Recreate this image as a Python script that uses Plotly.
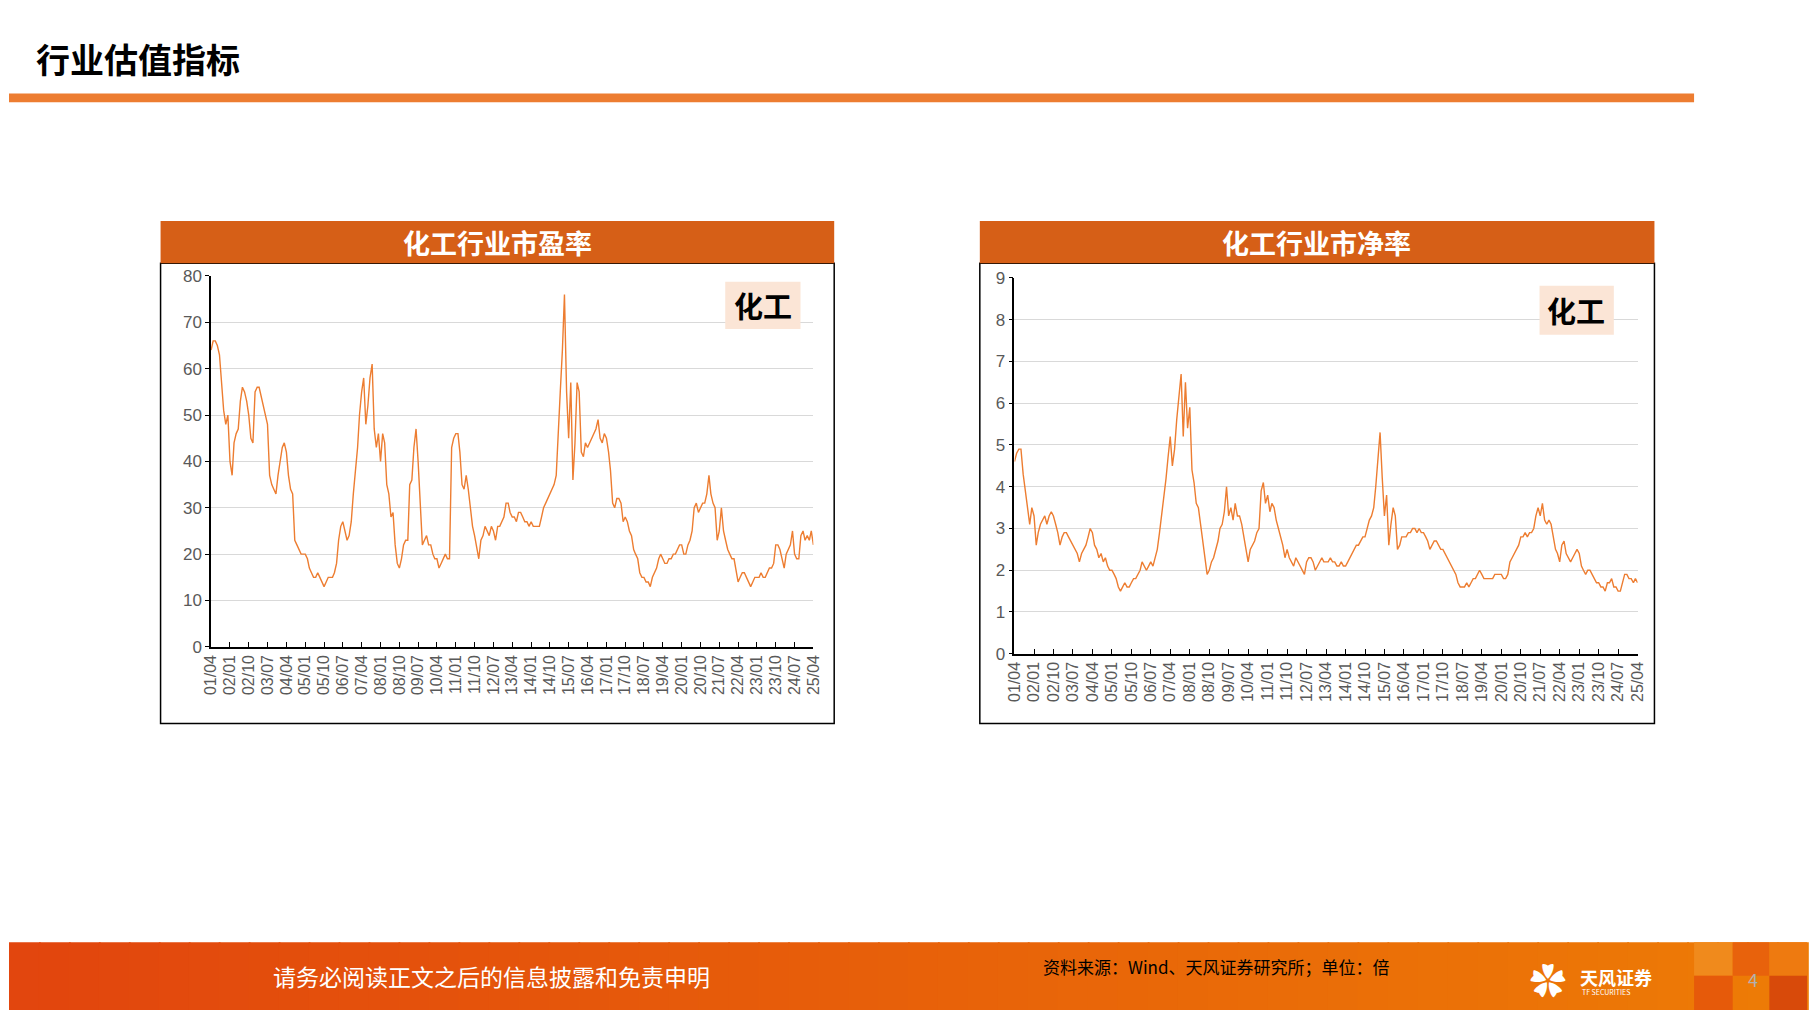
import pandas as pd
import plotly.graph_objects as go

# monthly, 2001-04 .. 2025-04
dates = pd.date_range("2001-04-01", periods=289, freq="MS")

pe = [64, 66, 66, 65, 63, 56, 51, 48, 50,
      40, 37, 44, 46, 47, 53, 56, 55, 53,
      50, 45, 44, 55, 56, 56, 54, 52, 50,
      48, 37, 35, 34, 33, 37, 40, 43, 44,
      42, 37, 34, 33, 23, 22, 21, 20, 20,
      20, 19, 17, 16, 15, 15, 16, 15, 14,
      13, 14, 15, 15, 15, 16, 18, 23, 26,
      27, 25, 23, 24, 27, 33, 38, 43, 50,
      55, 58, 48, 52, 58, 61, 47, 43, 46,
      40, 46, 44, 35, 33, 28, 29, 22, 18,
      17, 19, 22, 23, 23, 35, 36, 43, 47,
      40, 30, 22, 23, 24, 22, 22, 20, 19,
      19, 17, 18, 19, 20, 19, 19, 43, 45,
      46, 46, 42, 35, 34, 37, 34, 30, 26,
      24, 21, 19, 23, 24, 26, 25, 24, 26,
      25, 23, 26, 26, 27, 28, 31, 31, 29,
      28, 28, 27, 29, 29, 28, 27, 27, 26,
      27, 26, 26, 26, 26, 28, 30, 31, 32,
      33, 34, 35, 37, 45, 55, 64, 76, 55,
      45, 57, 36, 44, 57, 55, 42, 41, 44,
      43, 44, 45, 46, 47, 49, 45, 44, 46,
      45, 42, 38, 31, 30, 32, 32, 31, 27,
      28, 27, 25, 24, 21, 20, 19, 16, 15,
      15, 14, 14, 13, 15, 16, 17, 19, 20,
      19, 18, 18, 19, 19, 20, 20, 21, 22,
      22, 20, 20, 22, 23, 25, 30, 31, 29,
      30, 31, 31, 33, 37, 33, 31, 30, 23,
      25, 30, 25, 23, 21, 20, 19, 19, 17,
      14, 15, 16, 16, 15, 14, 13, 14, 15,
      15, 15, 16, 15, 15, 16, 17, 17, 18,
      22, 22, 21, 19, 17, 20, 21, 22, 25,
      20, 19, 19, 24, 25, 23, 24, 23, 25, 22]

pb = [4.6, 4.8, 4.9, 4.9, 4.3, 3.9, 3.6, 3.1, 3.5,
      3.3, 2.6, 2.9, 3.1, 3.2, 3.3, 3.1, 3.3, 3.4,
      3.3, 3.1, 2.9, 2.6, 2.8, 2.9, 2.9, 2.8, 2.7,
      2.6, 2.5, 2.4, 2.2, 2.4, 2.5, 2.6, 2.8, 3.0,
      2.9, 2.6, 2.5, 2.3, 2.4, 2.2, 2.3, 2.1, 2.0,
      2.0, 1.9, 1.8, 1.6, 1.5, 1.6, 1.7, 1.6, 1.6,
      1.7, 1.8, 1.8, 1.9, 2.0, 2.2, 2.1, 2.0, 2.1,
      2.2, 2.1, 2.3, 2.5, 2.9, 3.3, 3.8, 4.2, 4.7,
      5.2, 4.5, 4.9, 5.6, 6.2, 6.7, 5.2, 6.5, 5.4,
      5.9, 4.4, 4.1, 3.6, 3.5, 3.1, 2.7, 2.3, 1.9,
      2.0, 2.2, 2.3, 2.5, 2.7, 3.0, 3.1, 3.4, 4.0,
      3.3, 3.5, 3.2, 3.6, 3.3, 3.3, 3.1, 2.8, 2.5,
      2.2, 2.5, 2.6, 2.7, 2.9, 3.0, 3.9, 4.1, 3.6,
      3.8, 3.4, 3.6, 3.5, 3.2, 3.0, 2.8, 2.6, 2.3,
      2.5, 2.3, 2.2, 2.1, 2.3, 2.2, 2.1, 2.0, 1.9,
      2.2, 2.3, 2.3, 2.2, 2.0, 2.1, 2.2, 2.3, 2.2,
      2.2, 2.2, 2.3, 2.2, 2.2, 2.1, 2.1, 2.2, 2.1,
      2.1, 2.2, 2.3, 2.4, 2.5, 2.6, 2.6, 2.7, 2.8,
      2.8, 3.0, 3.2, 3.3, 3.5, 4.0, 4.6, 5.3, 4.2,
      3.3, 3.8, 2.6, 3.1, 3.5, 3.3, 2.5, 2.6, 2.8,
      2.8, 2.8, 2.9, 2.9, 3.0, 3.0, 2.9, 3.0, 2.9,
      2.9, 2.8, 2.7, 2.5, 2.6, 2.7, 2.7, 2.6, 2.5,
      2.5, 2.4, 2.3, 2.2, 2.1, 2.0, 1.9, 1.7, 1.6,
      1.6, 1.6, 1.7, 1.6, 1.7, 1.8, 1.8, 1.9, 2.0,
      1.9, 1.8, 1.8, 1.8, 1.8, 1.8, 1.9, 1.9, 1.9,
      1.9, 1.8, 1.8, 1.9, 2.2, 2.3, 2.4, 2.5, 2.6,
      2.8, 2.8, 2.9, 2.8, 2.9, 2.9, 3.0, 3.3, 3.5,
      3.3, 3.6, 3.2, 3.1, 3.2, 3.1, 2.8, 2.5, 2.4,
      2.2, 2.6, 2.7, 2.4, 2.3, 2.2, 2.3, 2.4, 2.5,
      2.4, 2.1, 2.0, 1.9, 2.0, 2.0, 1.9, 1.8, 1.7,
      1.7, 1.6, 1.6, 1.5, 1.7, 1.7, 1.8, 1.6, 1.6,
      1.5, 1.5, 1.7, 1.9, 1.9, 1.8, 1.8, 1.7, 1.8, 1.7]

tick_dates = pd.date_range("2001-04-01", "2025-04-01", freq="9MS")
tick_text = [d.strftime("%y/%m") for d in tick_dates]

W, H = 1815, 1020
FONT = "Noto Sans CJK SC"
LINE = "#ED7D31"


def px(x):
    return x / W


def py(y):
    return 1 - y / H


fig = go.Figure()
fig.add_trace(go.Scatter(x=dates, y=pe, mode="lines", line=dict(color=LINE, width=1.4),
                         xaxis="x", yaxis="y", showlegend=False))
fig.add_trace(go.Scatter(x=dates, y=pb, mode="lines", line=dict(color=LINE, width=1.4),
                         xaxis="x2", yaxis="y2", showlegend=False))

xcommon = dict(range=[dates[0], dates[-1]], tickvals=tick_dates, ticktext=tick_text,
               tickangle=-90, tickfont=dict(size=16, color="#595959", family="Liberation Sans"),
               showline=True, linecolor="black", linewidth=1.5, ticks="inside",
               ticklen=5, tickcolor="black", showgrid=False, zeroline=False)
ycommon = dict(tickfont=dict(size=17, color="#595959", family="Liberation Sans"),
               showline=True, linecolor="black", linewidth=1.5, ticks="outside",
               ticklen=4, tickcolor="black", gridcolor="#D9D9D9", gridwidth=1.2,
               zeroline=False)

fig.update_layout(
    width=W, height=H, margin=dict(l=0, r=0, t=0, b=0),
    paper_bgcolor="white", plot_bgcolor="white",
    font=dict(family=FONT),
    xaxis=dict(domain=[px(204), px(812)], anchor="y", **xcommon),
    yaxis=dict(domain=[py(650), py(272)], anchor="x", range=[0, 80], dtick=10, **ycommon),
    xaxis2=dict(domain=[px(1015), px(1644)], anchor="y2", **xcommon),
    yaxis2=dict(domain=[py(657), py(274)], anchor="x2", range=[0, 9], dtick=1, **ycommon),
)

shapes = []
# top orange rule
shapes.append(dict(type="rect", xref="paper", yref="paper", x0=0, x1=px(1701),
                   y0=py(95), y1=py(86), fillcolor="#ED7D31", line_width=0))
# chart boxes and header bars
for x0, x1 in [(153, 833), (980, 1661)]:
    shapes.append(dict(type="rect", xref="paper", yref="paper", x0=px(x0), x1=px(x1),
                       y0=py(728), y1=py(259), line=dict(color="black", width=1.5)))
    shapes.append(dict(type="rect", xref="paper", yref="paper", x0=px(x0), x1=px(x1),
                       y0=py(259), y1=py(216), fillcolor="#D65F17", line_width=0))
# label boxes
for x0, x1, y0, y1 in [(723, 799, 278, 326), (1545, 1620, 282, 332)]:
    shapes.append(dict(type="rect", xref="paper", yref="paper", x0=px(x0), x1=px(x1),
                       y0=py(y1), y1=py(y0), fillcolor="#FBE5D6", line_width=0))
# footer gradient
n = 60
c0, c1 = (226, 70, 14), (238, 124, 6)
for i in range(n):
    t = i / (n - 1)
    col = "rgb(%d,%d,%d)" % tuple(int(a + (b - a) * t) for a, b in zip(c0, c1))
    shapes.append(dict(type="rect", xref="paper", yref="paper", x0=i / n, x1=(i + 1) / n + 0.001,
                       y0=0, y1=py(951), fillcolor=col, line_width=0))
# corner blocks
for x0, x1, y0, y1, col in [(1701, 1740, 951, 985, "#F08A1C"), (1740, 1777, 951, 985, "#E8620C"),
                            (1777, 1815, 951, 985, "#EE7A10"), (1701, 1740, 985, 1020, "#E65A0A"),
                            (1777, 1815, 985, 1020, "#D84A0A")]:
    shapes.append(dict(type="rect", xref="paper", yref="paper", x0=px(x0), x1=px(x1),
                       y0=py(y1), y1=py(y0), fillcolor=col, line_width=0))
fig.update_layout(shapes=shapes)

ann = [
    dict(x=px(25), y=py(50), text="<b>行业估值指标</b>", xanchor="left", size=34, color="black"),
    dict(x=px(493), y=py(238), text="<b>化工行业市盈率</b>", xanchor="center", size=27, color="white"),
    dict(x=px(1320), y=py(238), text="<b>化工行业市净率</b>", xanchor="center", size=27, color="white"),
    dict(x=px(761), y=py(302), text="<b>化工</b>", xanchor="center", size=29, color="black"),
    dict(x=px(1582), y=py(307), text="<b>化工</b>", xanchor="center", size=29, color="black"),
    dict(x=px(264), y=py(985), text="请务必阅读正文之后的信息披露和免责申明", xanchor="left", size=23, color="white"),
    dict(x=px(1042), y=py(976), text="资料来源：Wind、天风证券研究所；单位：倍", xanchor="left", size=17, color="black"),
    dict(x=px(1584), y=py(986), text="<b>天风证券</b>", xanchor="left", size=18, color="white"),
    dict(x=px(1586), y=py(1002), text="TF SECURITIES", xanchor="left", size=7, color="white"),
    dict(x=px(1554), y=py(988), text="✿", xanchor="center", size=36, color="white"),
    dict(x=px(1760), y=py(988), text="4", xanchor="center", size=18, color="#B0B0B0"),
]
fig.update_layout(annotations=[
    dict(xref="paper", yref="paper", x=a["x"], y=a["y"], text=a["text"], xanchor=a["xanchor"],
         yanchor="middle", showarrow=False, font=dict(family=FONT, size=a["size"], color=a["color"]))
    for a in ann])

fig.write_html(
    "out.html",
    config={"displayModeBar": False},
    post_script=("document.body.style.margin='0';document.body.style.overflow='hidden';"
                 "var d=document.getElementById('{plot_id}');d.style.position='fixed';"
                 "d.style.left='0px';d.style.top='0px';"),
)
